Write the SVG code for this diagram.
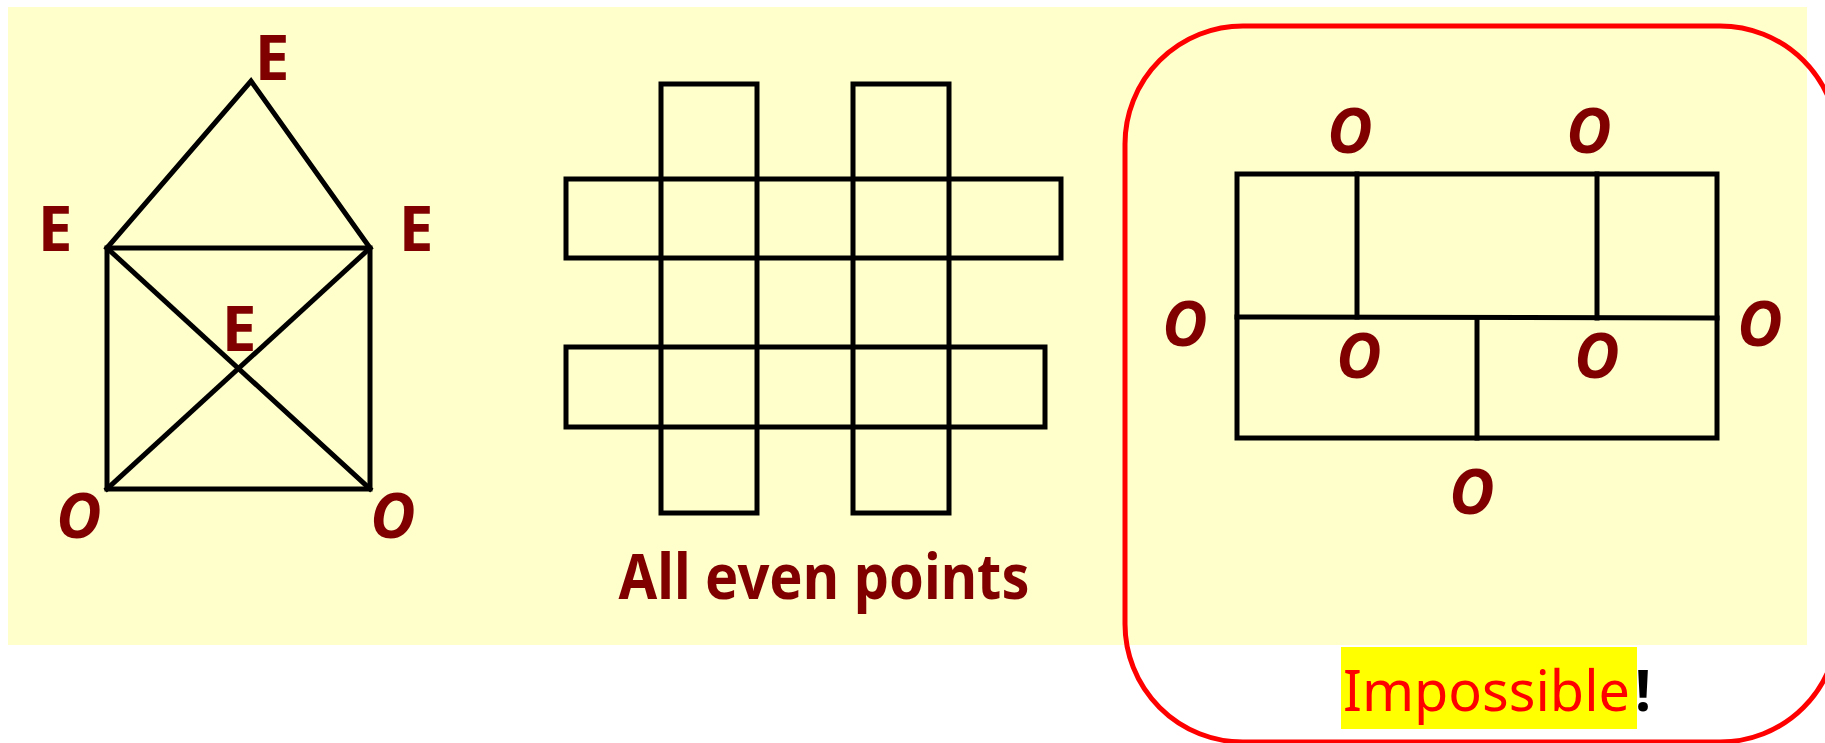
<svg xmlns="http://www.w3.org/2000/svg" width="1825" height="743" viewBox="0 0 1825 743">
<style>
.ln{stroke:#000;stroke-width:5;fill:none;stroke-linecap:square;stroke-linejoin:miter}
.lbl{font-family:"Noto Sans","DejaVu Sans",sans-serif;font-weight:bold;font-size:62px;fill:#800000;text-anchor:middle}
.o{font-style:italic}
</style>
<rect id="background" x="8" y="7" width="1799" height="638" fill="#FFFFCC"/>
<g id="house-graph">
  <g id="connectors">
    <polyline class="ln" points="107,248 251,81 370,248"/>
    <rect class="ln" x="107" y="248" width="263" height="241"/>
    <line class="ln" x1="107" y1="248" x2="370" y2="489"/>
    <line class="ln" x1="370" y1="248" x2="107" y2="489"/>
  </g>
  <g id="v-top"><text class="lbl" x="272" y="80">E</text></g>
  <g id="v-left"><text class="lbl" x="55" y="251">E</text></g>
  <g id="v-right"><text class="lbl" x="416" y="251">E</text></g>
  <g id="v-center"><text class="lbl" x="239" y="351">E</text></g>
  <g id="v-bl"><text class="lbl o" x="79" y="538">O</text></g>
  <g id="v-br"><text class="lbl o" x="393" y="538">O</text></g>
</g>
<g id="grid-figure">
  <rect class="ln" x="661" y="84" width="96" height="429"/>
  <rect class="ln" x="853" y="84" width="96" height="429"/>
  <rect class="ln" x="566" y="179" width="495" height="79"/>
  <rect class="ln" x="566" y="347" width="479" height="80"/>
  <g id="caption-even"><text class="lbl" x="824" y="599" textLength="411" lengthAdjust="spacingAndGlyphs">All even points</text></g>
</g>
<g id="impossible-panel">
  <rect x="1125" y="26" width="713" height="716" rx="118" ry="118" fill="none" stroke="#FF0000" stroke-width="5"/>
  <g id="rect-figure">
    <rect class="ln" x="1237" y="174" width="480" height="264"/>
    <line class="ln" x1="1237" y1="317" x2="1717" y2="318"/>
    <line class="ln" x1="1357" y1="174" x2="1357" y2="317"/>
    <line class="ln" x1="1597" y1="174" x2="1597" y2="318"/>
    <line class="ln" x1="1477" y1="318" x2="1477" y2="438"/>
  </g>
  <g id="o1"><text class="lbl o" x="1350" y="153">O</text></g>
  <g id="o2"><text class="lbl o" x="1589" y="153">O</text></g>
  <g id="o3"><text class="lbl o" x="1185" y="346">O</text></g>
  <g id="o4"><text class="lbl o" x="1760" y="346">O</text></g>
  <g id="o5"><text class="lbl o" x="1359" y="378">O</text></g>
  <g id="o6"><text class="lbl o" x="1597" y="378">O</text></g>
  <g id="o7"><text class="lbl o" x="1472" y="514">O</text></g>
  <g id="caption-impossible">
    <rect x="1341" y="647" width="296" height="82" fill="#FFFF00"/>
    <text x="1343" y="711" font-family="'Noto Sans','DejaVu Sans',sans-serif" font-size="57" textLength="287" lengthAdjust="spacingAndGlyphs" fill="#FF0000">Impossible</text>
    <text x="1635" y="711" font-family="'Noto Sans','DejaVu Sans',sans-serif" font-size="57" font-weight="bold" fill="#000">!</text>
  </g>
</g>
</svg>
